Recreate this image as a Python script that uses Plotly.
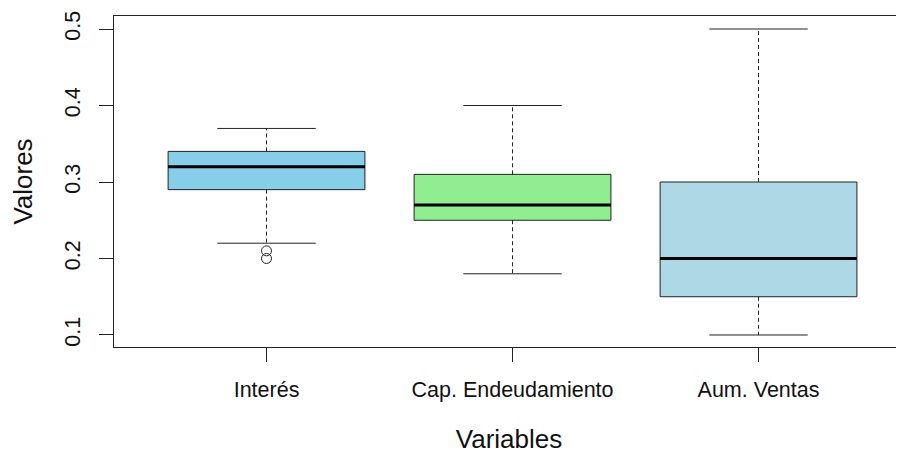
import plotly.graph_objects as go

categories = ["Interés", "Cap. Endeudamiento", "Aum. Ventas"]
lower_whisker = [0.22, 0.18, 0.10]
q1_values = [0.29, 0.25, 0.15]
median_values = [0.32, 0.27, 0.20]
q3_values = [0.34, 0.31, 0.30]
upper_whisker = [0.37, 0.40, 0.50]
outlier_values = [[0.21, 0.20], [], []]
fill_colors = ["#87CEEB", "#90EE90", "#ADD8E6"]
y_ticks = [0.1, 0.2, 0.3, 0.4, 0.5]

positions = [1, 2, 3]
LINE = "#222222"
FONT = "Liberation Sans, Arial, sans-serif"

fig = go.Figure()

for i, pos in enumerate(positions):
    # dashed whiskers
    fig.add_trace(go.Scatter(
        x=[pos, pos, None, pos, pos],
        y=[q3_values[i], upper_whisker[i], None, q1_values[i], lower_whisker[i]],
        mode="lines", line=dict(color=LINE, width=1, dash="4px,3px"),
        hoverinfo="skip", showlegend=False))
    # caps
    fig.add_trace(go.Scatter(
        x=[pos - 0.2, pos + 0.2, None, pos - 0.2, pos + 0.2],
        y=[upper_whisker[i], upper_whisker[i], None, lower_whisker[i], lower_whisker[i]],
        mode="lines", line=dict(color=LINE, width=1),
        hoverinfo="skip", showlegend=False))
    # box
    fig.add_trace(go.Box(
        x=[pos], q1=[q1_values[i]], median=[median_values[i]], q3=[q3_values[i]],
        lowerfence=[q1_values[i]], upperfence=[q3_values[i]],
        width=0.8, fillcolor=fill_colors[i],
        line=dict(color=LINE, width=1), whiskerwidth=0,
        boxpoints=False, showlegend=False, name=categories[i]))
    # thick median
    fig.add_trace(go.Scatter(
        x=[pos - 0.4, pos + 0.4], y=[median_values[i], median_values[i]],
        mode="lines", line=dict(color="black", width=3),
        hoverinfo="skip", showlegend=False))
    if outlier_values[i]:
        fig.add_trace(go.Scatter(
            x=[pos] * len(outlier_values[i]), y=outlier_values[i],
            mode="markers",
            marker=dict(symbol="circle-open", size=10, color=LINE, line=dict(width=1)),
            showlegend=False))

# the page body has an 8px margin, so the figure is sized to fit the window
fig.update_layout(
    width=896, height=446,
    margin=dict(l=106, r=0, t=8, b=107),
    paper_bgcolor="white", plot_bgcolor="white",
    font=dict(family=FONT, size=21.5, color="#111111"),
    showlegend=False,
    xaxis=dict(
        range=[0.38, 0.38 + 790 / 246],
        tickvals=positions, ticktext=categories,
        showgrid=False, zeroline=False,
        showline=True, mirror=True, linecolor=LINE, linewidth=1,
        ticks="outside", ticklen=14, tickcolor=LINE, tickwidth=1,
        ticklabelstandoff=9,
        title=dict(text="Variables", standoff=40),
        automargin=False),
    yaxis=dict(
        range=[0.0843, 0.517],
        tickvals=y_ticks, ticktext=[str(v) for v in y_ticks],
        tickangle=-90,
        showgrid=False, zeroline=False,
        showline=True, linecolor=LINE, linewidth=1,
        ticks="outside", ticklen=14, tickcolor=LINE, tickwidth=1,
        ticklabelstandoff=10,
        title=dict(text="Valores", standoff=27),
        automargin=False),
)

fig.write_html("out.html")
